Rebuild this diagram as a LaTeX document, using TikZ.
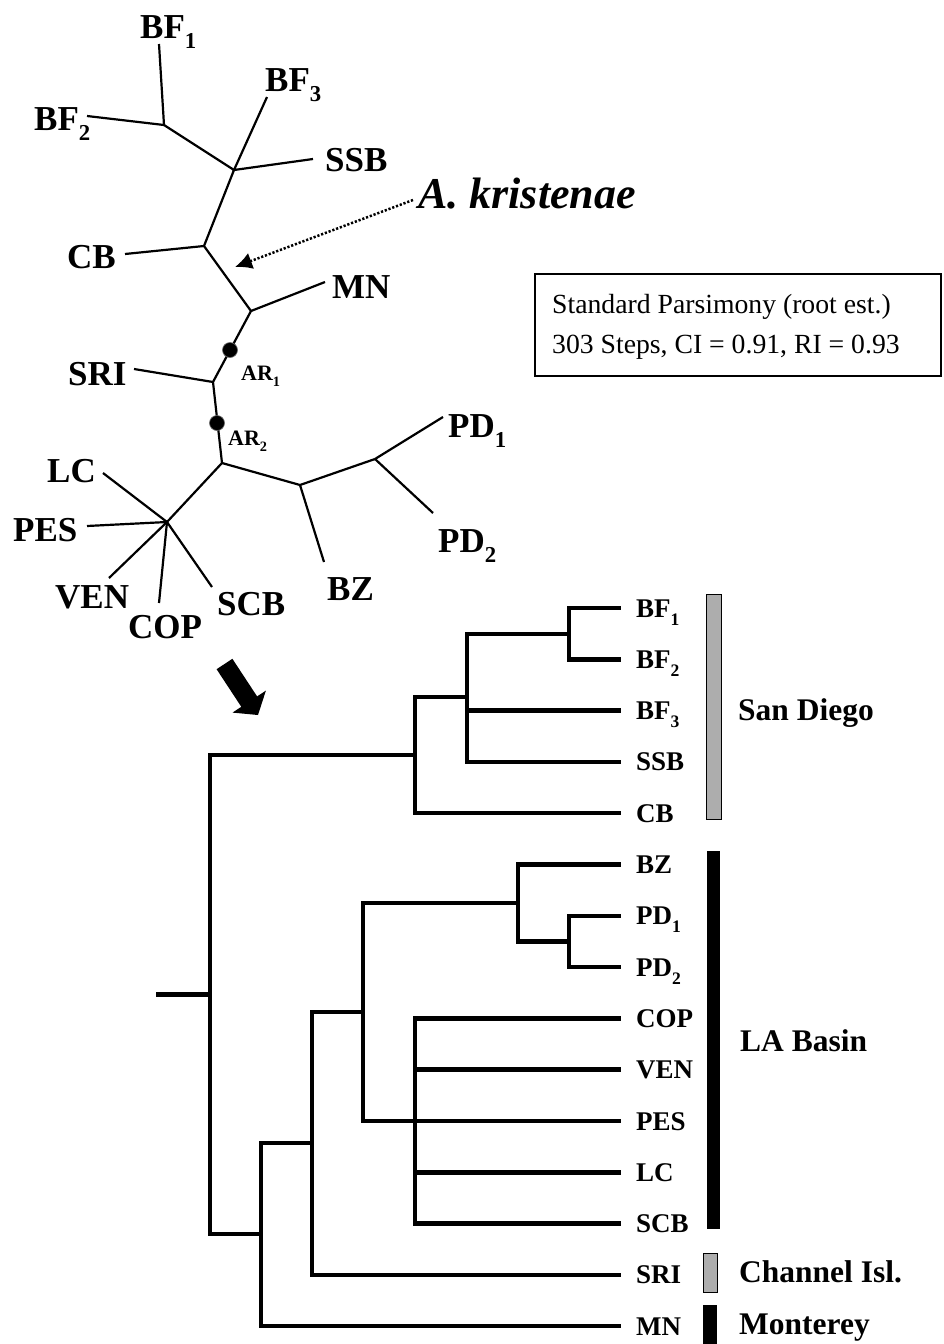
\documentclass[tikz,border=0pt]{standalone}
\usepackage{fontspec}
\usepackage{graphicx}
\setmainfont{Liberation Serif}
\usetikzlibrary{arrows.meta}
\newcommand{\sbn}[1]{\raisebox{-0.3em}{\scalebox{0.65}{#1}}}
\begin{document}
\begin{tikzpicture}[x=1pt,y=-1pt,
  ubr/.style={line width=2.2pt, line cap=butt},
  rbr/.style={line width=4.5pt, line join=miter, line cap=rect},
  tl/.style={font=\fontsize{35}{40}\selectfont\bfseries, inner sep=0pt, anchor=base west},
  arl/.style={font=\fontsize{22}{26}\selectfont\bfseries, inner sep=0pt, anchor=base west},
  rl/.style={font=\fontsize{27}{32}\selectfont\bfseries, inner sep=0pt, anchor=base west},
  gl/.style={font=\fontsize{31.5}{36}\selectfont\bfseries, inner sep=0pt, anchor=base west},
  bt/.style={font=\fontsize{27.7}{32}\selectfont, inner sep=0pt, anchor=base west},
  dotbar/.style={fill=black!32, draw=black, line width=1pt},
  solbar/.style={fill=black, draw=black, line width=0.5pt},
  ardot/.style={circle, fill=black, draw=black!60, line width=0.6pt, minimum size=15pt, inner sep=0pt}]
\useasboundingbox (0,0) rectangle (943,1344);

% ---------------- unrooted tree ----------------
\coordinate (uBF12) at (164,125);
\coordinate (uBF1) at (159,44);
\coordinate (uBF2) at (87,116);
\coordinate (uN3) at (234,170);
\coordinate (uBF3) at (267,97);
\coordinate (uSSB) at (313,159);
\coordinate (uNCB) at (204,246);
\coordinate (uCB) at (125,254);
\coordinate (uNMN) at (251,311);
\coordinate (uMN) at (325,282);
\coordinate (uNSRI) at (213,382);
\coordinate (uSRI) at (134,369);
\coordinate (uNLA) at (222,463);
\coordinate (uP) at (167,522);
\coordinate (uLC) at (103,473);
\coordinate (uPES) at (87,526);
\coordinate (uVEN) at (109,578);
\coordinate (uCOP) at (159,603);
\coordinate (uSCB) at (212,587);
\coordinate (uNBZ) at (300,485);
\coordinate (uBZ) at (324,562);
\coordinate (uNPD) at (375,459);
\coordinate (uPD1) at (443,417);
\coordinate (uPD2) at (433,513);

\draw[ubr] (uBF1) -- (uBF12) -- (uN3);
\draw[ubr] (uBF2) -- (uBF12);
\draw[ubr] (uBF3) -- (uN3) -- (uSSB);
\draw[ubr] (uN3) -- (uNCB) -- (uNMN) -- (uNSRI) -- (uNLA);
\draw[ubr] (uNCB) -- (uCB);
\draw[ubr] (uNMN) -- (uMN);
\draw[ubr] (uNSRI) -- (uSRI);
\draw[ubr] (uNLA) -- (uP);
\draw[ubr] (uP) -- (uLC);
\draw[ubr] (uP) -- (uPES);
\draw[ubr] (uP) -- (uVEN);
\draw[ubr] (uP) -- (uCOP);
\draw[ubr] (uP) -- (uSCB);
\draw[ubr] (uNLA) -- (uNBZ) -- (uNPD);
\draw[ubr] (uNBZ) -- (uBZ);
\draw[ubr] (uNPD) -- (uPD1);
\draw[ubr] (uNPD) -- (uPD2);

\node[ardot] (ar1) at (230,350) {};
\node[ardot] (ar2) at (217,423) {};
\node[arl] (lar1) at (241,380) {AR\sbn{1}};
\node[arl] (lar2) at (228,445) {AR\sbn{2}};

\node[tl] (lBF1) at (140,38) {BF\sbn{1}};
\node[tl] (lBF2) at (34,130) {BF\sbn{2}};
\node[tl] (lBF3) at (265,91) {BF\sbn{3}};
\node[tl] (lSSB) at (325,171) {SSB};
\node[tl] (lCB) at (67,268) {CB};
\node[tl] (lMN) at (332,298) {MN};
\node[tl] (lSRI) at (68,385) {SRI};
\node[tl] (lLC) at (47,482) {LC};
\node[tl] (lPES) at (13,541) {PES};
\node[tl] (lVEN) at (55,608) {VEN};
\node[tl] (lCOP) at (128,638) {COP};
\node[tl] (lSCB) at (217,615) {SCB};
\node[tl] (lBZ) at (327,600) {BZ};
\node[tl] (lPD1) at (448,437) {PD\sbn{1}};
\node[tl] (lPD2) at (438,552) {PD\sbn{2}};

\node[font=\fontsize{44}{50}\selectfont\bfseries\itshape, inner sep=0pt, anchor=base west] (kr) at (418,208) {A. kristenae};
\coordinate (krs) at (413,200);
\coordinate (krt) at (235,267);
\draw[line width=2.5pt, dash pattern=on 2.2pt off 1.8pt, -{Latex[length=17pt,width=17pt]}] (krs) -- (krt);

% ---------------- info box ----------------
\draw[line width=1.4pt] (535,274) rectangle (941,376);
\node[bt] (bx1) at (552,313) {Standard Parsimony (root est.)};
\node[bt] (bx2) at (552,353) {303 Steps, CI = 0.91, RI = 0.93};

% ---------------- block arrow ----------------
\fill (216.6,669.2) -- (232.4,658.8) -- (257.1,696.4) -- (265.9,690.6) -- (258,715) -- (232.5,712.6) -- (241.3,706.8) -- cycle;

% ---------------- rooted tree ----------------
\def\tx{619}
\coordinate (tBF1) at (\tx,608);
\coordinate (tBF2) at (\tx,659.3);
\coordinate (tBF3) at (\tx,710.6);
\coordinate (tSSB) at (\tx,761.9);
\coordinate (tCB) at (\tx,813.2);
\coordinate (tBZ) at (\tx,864.5);
\coordinate (tPD1) at (\tx,915.8);
\coordinate (tPD2) at (\tx,967.1);
\coordinate (tCOP) at (\tx,1018.4);
\coordinate (tVEN) at (\tx,1069.7);
\coordinate (tPES) at (\tx,1121);
\coordinate (tLC) at (\tx,1172.3);
\coordinate (tSCB) at (\tx,1223.6);
\coordinate (tSRI) at (\tx,1274.9);
\coordinate (tMN) at (\tx,1326.2);

\coordinate (rs) at (158,994.5);
\coordinate (R) at (210,994.5);
\coordinate (SD) at (415,755);
\coordinate (BFc) at (467,697);
\coordinate (BF12) at (569,634);
\coordinate (L1) at (261,1234);
\coordinate (L2) at (312,1143);
\coordinate (L3) at (363,1012);
\coordinate (BZPD) at (518,903);
\coordinate (PD) at (569,941.5);
\coordinate (PL) at (415,1121);

\draw[rbr] (rs) -- (R);
\draw[rbr] (R) |- (SD);
\draw[rbr] (R) |- (L1);
\draw[rbr] (SD) |- (BFc);
\draw[rbr] (SD) |- (tCB);
\draw[rbr] (BFc) |- (BF12);
\draw[rbr] (BFc) |- (tBF3);
\draw[rbr] (BFc) |- (tSSB);
\draw[rbr] (BF12) |- (tBF1);
\draw[rbr] (BF12) |- (tBF2);
\draw[rbr] (L1) |- (L2);
\draw[rbr] (L1) |- (tMN);
\draw[rbr] (L2) |- (L3);
\draw[rbr] (L2) |- (tSRI);
\draw[rbr] (L3) |- (BZPD);
\draw[rbr] (L3) |- (tPES);
\draw[rbr] (BZPD) |- (tBZ);
\draw[rbr] (BZPD) |- (PD);
\draw[rbr] (PD) |- (tPD1);
\draw[rbr] (PD) |- (tPD2);
\draw[rbr] (PL) |- (tCOP);
\draw[rbr] (PL) |- (tVEN);
\draw[rbr] (PL) |- (tLC);
\draw[rbr] (PL) |- (tSCB);

\node[rl] (nBF1) at (636,617) {BF\sbn{1}};
\node[rl] (nBF2) at (636,668.3) {BF\sbn{2}};
\node[rl] (nBF3) at (636,719.6) {BF\sbn{3}};
\node[rl] (nSSB) at (636,770.9) {SSB};
\node[rl] (nCB) at (636,822.2) {CB};
\node[rl] (nBZ) at (636,873.5) {BZ};
\node[rl] (nPD1) at (636,924.8) {PD\sbn{1}};
\node[rl] (nPD2) at (636,976.1) {PD\sbn{2}};
\node[rl] (nCOP) at (636,1027.4) {COP};
\node[rl] (nVEN) at (636,1078.7) {VEN};
\node[rl] (nPES) at (636,1130) {PES};
\node[rl] (nLC) at (636,1181.3) {LC};
\node[rl] (nSCB) at (636,1232.6) {SCB};
\node[rl] (nSRI) at (636,1283.9) {SRI};
\node[rl] (nMN) at (636,1335.2) {MN};

% ---------------- region bars ----------------
\draw[dotbar] (706,594) rectangle (721,819);
\draw[solbar] (707,851) rectangle (719,1228);
\draw[dotbar] (703,1253) rectangle (717,1292);
\draw[solbar] (703,1305) rectangle (716,1343);
\node[gl] (gSD) at (738,720) {San Diego};
\node[gl] (gLA) at (740,1051) {LA Basin};
\node[gl] (gCI) at (739,1282) {Channel Isl.};
\node[gl] (gMO) at (739,1334) {Monterey};
\end{tikzpicture}
\end{document}
